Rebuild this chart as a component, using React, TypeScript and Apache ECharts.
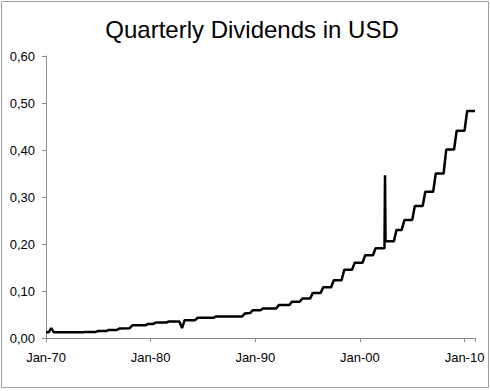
import React, { useEffect, useRef } from 'react';
import * as echarts from 'echarts';

const titleText = 'Quarterly Dividends in USD';
const xTickYears = [1970, 1980, 1990, 2000, 2010];

// Decimal-year dates of the line's vertices and the quarterly dividend (USD) there
const dividendDates = [
  1970.0, 1970.25, 1970.5, 1970.75,
  1973.5, 1973.75, 1974.75, 1975.0, 1975.75, 1976.0, 1976.75, 1977.0, 1978.0, 1978.25,
  1979.5, 1979.75, 1980.25, 1980.5, 1981.5, 1981.75, 1982.75, 1983.0, 1983.25,
  1984.25, 1984.5, 1986.0, 1986.25, 1988.75, 1989.0, 1989.5, 1989.75, 1990.5, 1990.75,
  1992.0, 1992.25, 1993.25, 1993.5, 1994.25, 1994.5, 1995.25, 1995.5, 1996.25, 1996.5,
  1997.25, 1997.5, 1998.25, 1998.5, 1999.25, 1999.5, 2000.25, 2000.5, 2001.25, 2001.5,
  2002.35, 2002.4, 2002.45, 2003.25, 2003.5, 2004.0, 2004.25, 2005.0, 2005.25,
  2006.0, 2006.25, 2007.0, 2007.25, 2008.0, 2008.25, 2009.0, 2009.25, 2010.0, 2010.25, 2011.0,
];
const dividendValues = [
  0.012, 0.012, 0.021, 0.012,
  0.012, 0.013, 0.013, 0.015, 0.015, 0.017, 0.017, 0.02, 0.021, 0.027,
  0.027, 0.03, 0.03, 0.033, 0.033, 0.035, 0.035, 0.021, 0.038,
  0.038, 0.043, 0.043, 0.046, 0.046, 0.052, 0.053, 0.059, 0.059, 0.063,
  0.063, 0.07, 0.07, 0.077, 0.077, 0.084, 0.084, 0.096, 0.096, 0.108,
  0.108, 0.123, 0.123, 0.145, 0.145, 0.16, 0.16, 0.176, 0.176, 0.191,
  0.191, 0.346, 0.206, 0.206, 0.23, 0.23, 0.251, 0.251, 0.281,
  0.281, 0.311, 0.311, 0.35, 0.35, 0.401, 0.401, 0.441, 0.441, 0.483, 0.483,
];

const FONT = "'Liberation Sans', Arial, sans-serif";

export default function App() {
  const ref = useRef<HTMLDivElement>(null);
  useEffect(() => {
    const chart = echarts.init(ref.current!, null, { renderer: 'svg' });
    const seriesData = dividendDates.map((d, i) => [d, dividendValues[i]]);
    chart.setOption({
      animation: false,
      backgroundColor: '#ffffff',
      graphic: [
        {
          type: 'rect',
          shape: { x: 1.5, y: 1.5, width: 487, height: 386 },
          style: { fill: 'none', stroke: '#a0a0a0', lineWidth: 1 },
          silent: true,
        },
        {
          type: 'text',
          x: 252,
          y: 29,
          style: {
            text: titleText,
            font: `24px ${FONT}`,
            fill: '#000000',
            textAlign: 'center',
            textVerticalAlign: 'middle',
          },
        },
      ],
      grid: { left: 46, right: 15, top: 56, bottom: 53, containLabel: false },
      xAxis: {
        type: 'value',
        min: 1970,
        max: 2011,
        interval: 10,
        splitLine: { show: false },
        axisLine: { show: true, lineStyle: { color: '#8c8c8c', width: 1 } },
        axisTick: { show: true, length: 4, lineStyle: { color: '#8c8c8c' } },
        axisLabel: {
          margin: 13,
          fontSize: 13,
          fontFamily: FONT,
          color: '#000000',
          formatter: (v: number) =>
            xTickYears.indexOf(Math.round(v)) >= 0 ? 'Jan-' + String(Math.round(v)).slice(2) : '',
        },
      },
      yAxis: {
        type: 'value',
        min: 0,
        max: 0.6,
        interval: 0.1,
        splitLine: { show: false },
        axisLine: { show: true, lineStyle: { color: '#8c8c8c', width: 1 } },
        axisTick: { show: true, length: 4, lineStyle: { color: '#8c8c8c' } },
        axisLabel: {
          margin: 11,
          fontSize: 13,
          fontFamily: FONT,
          color: '#000000',
          formatter: (v: number) => v.toFixed(2).replace('.', ','),
        },
      },
      series: [
        {
          type: 'line',
          data: seriesData,
          showSymbol: false,
          symbol: 'none',
          lineStyle: { color: '#000000', width: 2.5 },
          silent: true,
        },
      ],
    });
    return () => chart.dispose();
  }, []);
  return (
    <div
      ref={ref}
      style={{ position: 'fixed', left: 0, top: 0, width: 490, height: 391, background: '#fff' }}
    />
  );
}
